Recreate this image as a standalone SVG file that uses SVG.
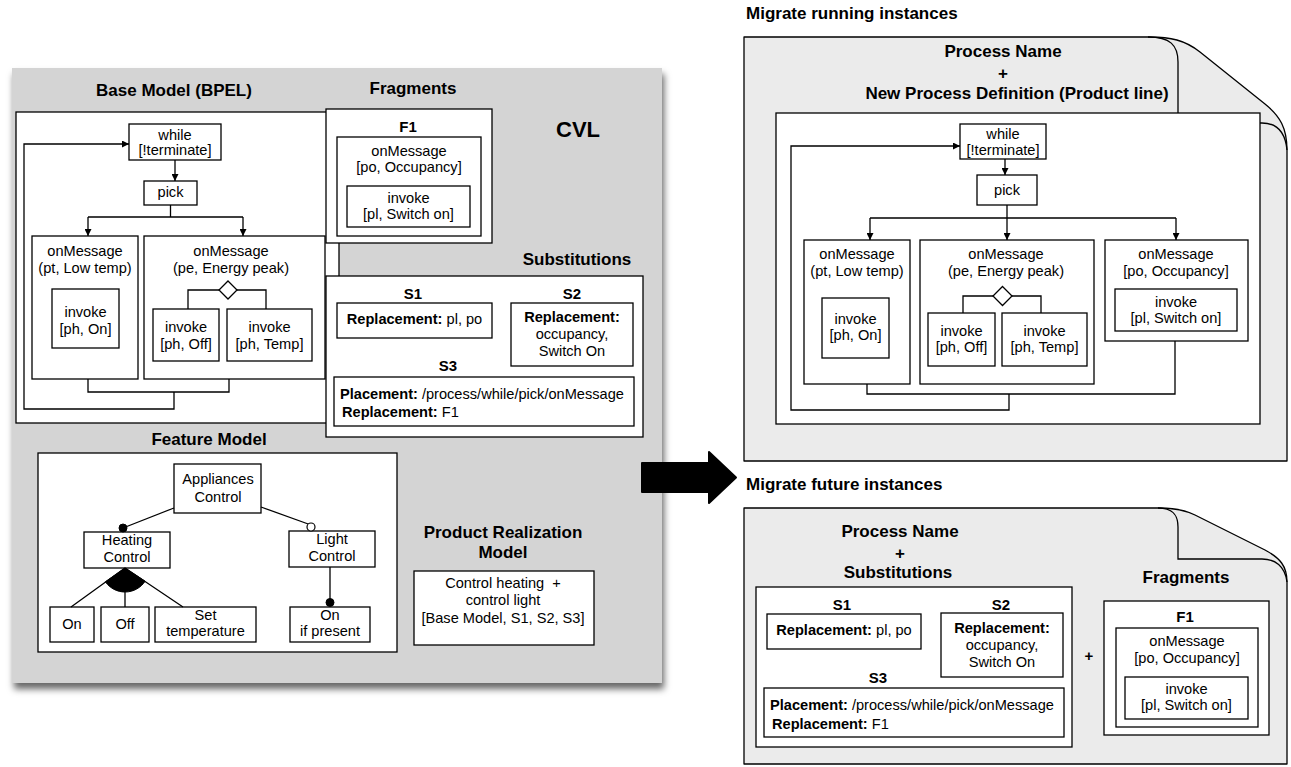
<svg xmlns="http://www.w3.org/2000/svg" width="1291" height="767" viewBox="0 0 1291 767">
<defs>
<style>
.t{font-family:"Liberation Sans",Arial,Helvetica,sans-serif;font-size:14.6px;fill:#000;text-anchor:middle}
.h{font-family:"Liberation Sans",Arial,Helvetica,sans-serif;font-size:17px;font-weight:bold;fill:#000;text-anchor:middle}
.s{font-family:"Liberation Sans",Arial,Helvetica,sans-serif;font-size:15px;font-weight:bold;fill:#000;text-anchor:middle}
text.l{text-anchor:start}
.bd{font-weight:bold}
.bx{fill:#fff;stroke:#000;stroke-width:1.3}
.ln{fill:none;stroke:#000;stroke-width:1.3}
.arr{marker-end:url(#ah)}
.pg{fill:#ebebeb;stroke:#000;stroke-width:1.3;stroke-linejoin:round}
.dot{fill:#000;stroke:#000;stroke-width:1}
.odot{fill:#fff;stroke:#000;stroke-width:1.2}
</style>
<marker id="ah" viewBox="0 0 10 10" refX="10" refY="5" markerWidth="7" markerHeight="7" markerUnits="userSpaceOnUse" orient="auto"><path d="M0,0 L10,5 L0,10 z" fill="#000"/></marker>
<filter id="sh" x="-5%" y="-5%" width="115%" height="115%"><feDropShadow dx="2" dy="6" stdDeviation="3.5" flood-color="#000" flood-opacity="0.6"/></filter>
</defs>
<rect x="0" y="0" width="1291" height="767" fill="#fff"/>

<!-- CVL panel -->
<g id="cvl-panel">
<rect x="12" y="68" width="650" height="615" fill="#d4d4d4" filter="url(#sh)"/>
<text class="h" x="174" y="96">Base Model (BPEL)</text>
<text class="h" x="413" y="94">Fragments</text>
<text class="h" x="578" y="137" style="font-size:22px">CVL</text>
<text class="h" x="577" y="265">Substitutions</text>
<text class="h" x="209" y="445">Feature Model</text>
<text class="h" x="503" y="538">Product Realization</text>
<text class="h" x="503" y="558">Model</text>
</g>

<!-- Base model -->
<g id="base-model">
<rect class="bx" x="16" y="112" width="323" height="311"/>
</g>
<g id="bpel-while">
<rect class="bx" x="129" y="124" width="92" height="36"/>
<text class="t" x="175" y="140">while</text>
<text class="t" x="175" y="155">[!terminate]</text>
</g>
<g id="bpel-pick">
<rect class="bx" x="144" y="181" width="53" height="24"/>
<text class="t" x="170.5" y="197">pick</text>
</g>
<g id="bpel-onmsg-pt">
<rect class="bx" x="32" y="236" width="106" height="143"/>
<text class="t" x="85" y="256">onMessage</text>
<text class="t" x="85" y="273">(pt, Low temp)</text>
<rect class="bx" x="52" y="289" width="67" height="59"/>
<text class="t" x="85.5" y="317">invoke</text>
<text class="t" x="85.5" y="334">[ph, On]</text>
</g>
<g id="bpel-onmsg-pe">
<rect class="bx" x="144" y="236" width="181" height="143"/>
<text class="t" x="231" y="256">onMessage</text>
<text class="t" x="231" y="273">(pe, Energy peak)</text>
<path class="bx" d="M228,281 L237,290 L228,299 L219,290 Z"/>
<rect class="bx" x="153" y="309" width="66" height="52"/>
<text class="t" x="186" y="332">invoke</text>
<text class="t" x="186" y="349">[ph, Off]</text>
<rect class="bx" x="227" y="309" width="85" height="52"/>
<text class="t" x="269.5" y="332">invoke</text>
<text class="t" x="269.5" y="349">[ph, Temp]</text>
</g>

<!-- Fragments -->
<g id="fragments">
<rect class="bx" x="326" y="109" width="166" height="134"/>
<text class="s" x="408" y="132">F1</text>
<rect class="bx" x="337" y="137" width="144" height="99"/>
<text class="t" x="409" y="156">onMessage</text>
<text class="t" x="409" y="172">[po, Occupancy]</text>
<rect class="bx" x="347" y="186" width="123" height="41"/>
<text class="t" x="408.5" y="203">invoke</text>
<text class="t" x="408.5" y="219">[pl, Switch on]</text>
</g>

<!-- Substitutions -->
<g id="substitutions">
<rect class="bx" x="326" y="276" width="317" height="161"/>
<text class="s" x="413" y="299">S1</text>
<rect class="bx" x="337" y="303" width="155" height="35"/>
<text class="t" x="414.5" y="324"><tspan class="bd">Replacement:</tspan> pl, po</text>
<text class="s" x="572" y="299">S2</text>
<rect class="bx" x="511" y="303" width="122" height="63"/>
<text class="t bd" x="572" y="322">Replacement:</text>
<text class="t" x="572" y="339">occupancy,</text>
<text class="t" x="572" y="356">Switch On</text>
<text class="s" x="448" y="371">S3</text>
<rect class="bx" x="334" y="377" width="300" height="49"/>
<text class="t l" x="340" y="399"><tspan class="bd">Placement:</tspan> /process/while/pick/onMessage</text>
<text class="t l" x="342" y="417"><tspan class="bd">Replacement:</tspan> F1</text>
</g>

<!-- Feature model -->
<g id="feature-model">
<rect class="bx" x="38" y="453" width="359" height="199"/>
</g>
<g id="fm-appliances">
<rect class="bx" x="174" y="464" width="87" height="49"/>
<text class="t" x="218" y="484">Appliances</text>
<text class="t" x="218" y="502">Control</text>
</g>
<g id="fm-heating">
<rect class="bx" x="84" y="532" width="86" height="36"/>
<text class="t" x="127" y="545">Heating</text>
<text class="t" x="127" y="562">Control</text>
</g>
<g id="fm-light">
<rect class="bx" x="289" y="531" width="86" height="36"/>
<text class="t" x="332" y="544">Light</text>
<text class="t" x="332" y="561">Control</text>
</g>
<g id="fm-on">
<rect class="bx" x="50" y="607" width="44" height="35"/>
<text class="t" x="72" y="629">On</text>
</g>
<g id="fm-off">
<rect class="bx" x="101" y="607" width="48" height="35"/>
<text class="t" x="125" y="629">Off</text>
</g>
<g id="fm-settemp">
<rect class="bx" x="155" y="607" width="101" height="35"/>
<text class="t" x="205.5" y="620">Set</text>
<text class="t" x="205.5" y="636">temperature</text>
</g>
<g id="fm-onifpresent">
<rect class="bx" x="290" y="607" width="80" height="35"/>
<text class="t" x="330" y="620">On</text>
<text class="t" x="330" y="636">if present</text>
</g>

<!-- Product realization -->
<g id="product-realization">
<rect class="bx" x="414" y="571" width="180" height="74"/>
<text class="t" x="503" y="588" xml:space="preserve">Control heating  +</text>
<text class="t" x="503" y="605">control light</text>
<text class="t" x="503" y="623">[Base Model, S1, S2, S3]</text>
</g>

<!-- Big arrow -->
<g id="transform-arrow">
<path d="M642,463 H709 V452 L736,477.5 L709,503 V492 H642 Z" fill="#000" stroke="#000" stroke-width="2" stroke-linejoin="round"/>
</g>

<!-- Running instances -->
<text class="h l" x="746" y="19">Migrate running instances</text>
<g id="running-page">
<path class="pg" d="M744,37 H1150 C1170,37 1185,40 1200,52 L1265,104 C1280,116 1287,128 1287,150 V461 H744 Z"/>
<path class="ln" d="M1148,37 C1170,37 1178,45 1178,62 V123 H1262 C1275,123 1285,130 1287,150"/>
<text class="h" x="1003" y="57">Process Name</text>
<text class="h" x="1003" y="79">+</text>
<text class="h" x="1017" y="99">New Process Definition (Product line)</text>
<rect class="bx" x="776" y="113" width="484" height="311"/>
</g>
<g id="r-while">
<rect class="bx" x="960" y="124" width="86" height="35"/>
<text class="t" x="1003" y="139">while</text>
<text class="t" x="1003" y="155">[!terminate]</text>
</g>
<g id="r-pick">
<rect class="bx" x="977" y="175" width="60" height="30"/>
<text class="t" x="1007" y="195">pick</text>
</g>
<g id="r-onmsg-pt">
<rect class="bx" x="804" y="240" width="106" height="144"/>
<text class="t" x="857" y="259">onMessage</text>
<text class="t" x="857" y="276">(pt, Low temp)</text>
<rect class="bx" x="822" y="298" width="67" height="60"/>
<text class="t" x="855.5" y="324">invoke</text>
<text class="t" x="855.5" y="340">[ph, On]</text>
</g>
<g id="r-onmsg-pe">
<rect class="bx" x="920" y="240" width="174" height="144"/>
<text class="t" x="1006" y="259">onMessage</text>
<text class="t" x="1006" y="276">(pe, Energy peak)</text>
<path class="bx" d="M1002.5,286.5 L1012,296 L1002.5,305.5 L993,296 Z"/>
<rect class="bx" x="928" y="313" width="67" height="53"/>
<text class="t" x="961.5" y="336">invoke</text>
<text class="t" x="961.5" y="352">[ph, Off]</text>
<rect class="bx" x="1002" y="313" width="85" height="53"/>
<text class="t" x="1044.5" y="336">invoke</text>
<text class="t" x="1044.5" y="352">[ph, Temp]</text>
</g>
<g id="r-onmsg-po">
<rect class="bx" x="1105" y="240" width="143" height="101"/>
<text class="t" x="1176" y="259">onMessage</text>
<text class="t" x="1176" y="276">[po, Occupancy]</text>
<rect class="bx" x="1115" y="289" width="122" height="42"/>
<text class="t" x="1176" y="307">invoke</text>
<text class="t" x="1176" y="323">[pl, Switch on]</text>
</g>

<!-- Future instances -->
<text class="h l" x="746" y="490">Migrate future instances</text>
<g id="future-page">
<path class="pg" d="M744,508 H1160 C1175,508 1185,510 1195,515 L1265,550 C1280,558 1287,566 1287,582 V764 H744 Z"/>
<path class="ln" d="M1158,508 C1172,508 1178,514 1178,527 V559 H1262 C1275,559 1285,566 1287,582"/>
<text class="h" x="900" y="537">Process Name</text>
<text class="h" x="900" y="559">+</text>
<text class="h" x="898" y="578">Substitutions</text>
<text class="h" x="1186" y="583">Fragments</text>
<text class="h" x="1089" y="661" style="font-size:15px">+</text>
</g>
<g id="f-substitutions">
<rect class="bx" x="756" y="587" width="316" height="160"/>
<text class="s" x="842" y="610">S1</text>
<rect class="bx" x="767" y="614" width="154" height="35"/>
<text class="t" x="844" y="635"><tspan class="bd">Replacement:</tspan> pl, po</text>
<text class="s" x="1001" y="610">S2</text>
<rect class="bx" x="941" y="613" width="122" height="64"/>
<text class="t bd" x="1002" y="633">Replacement:</text>
<text class="t" x="1002" y="650">occupancy,</text>
<text class="t" x="1002" y="667">Switch On</text>
<text class="s" x="878" y="683">S3</text>
<rect class="bx" x="764" y="688" width="300" height="49"/>
<text class="t l" x="770" y="710"><tspan class="bd">Placement:</tspan> /process/while/pick/onMessage</text>
<text class="t l" x="772" y="729"><tspan class="bd">Replacement:</tspan> F1</text>
</g>
<g id="f-fragments">
<rect class="bx" x="1104" y="601" width="165" height="134"/>
<text class="s" x="1185" y="622">F1</text>
<rect class="bx" x="1116" y="628" width="142" height="99"/>
<text class="t" x="1187" y="646">onMessage</text>
<text class="t" x="1187" y="663">[po, Occupancy]</text>
<rect class="bx" x="1125" y="677" width="123" height="42"/>
<text class="t" x="1186.5" y="694">invoke</text>
<text class="t" x="1186.5" y="710">[pl, Switch on]</text>
</g>

<!-- Connectors -->
<g id="connectors">
<path class="ln arr" d="M175,160 V181"/>
<path class="ln" d="M170.5,205 V217 H243 M175,217 H88"/>
<path class="ln arr" d="M88,217 V236"/>
<path class="ln arr" d="M243,217 V236"/>
<path class="ln" d="M219,290 H188 V309 M237,290 H266 V309"/>
<path class="ln" d="M88,379 V392 H229 V379"/>
<path class="ln arr" d="M174,392 V409 H24 V144 H129"/>

<path class="ln" d="M174,508 L123,528"/>
<circle class="dot" cx="123" cy="528" r="4"/>
<path class="ln" d="M261,507 L311,525"/>
<circle class="odot" cx="311" cy="527" r="4"/>
<path d="M125,568 L105.4,581.8 A24,24 0 0,0 145.1,581.2 Z" fill="#000" stroke="#000" stroke-width="1"/>
<path class="ln" d="M125,568 L71,607 M125,568 V607 M125,568 L183,607"/>
<path class="ln" d="M330,567 V600"/>
<circle class="dot" cx="330" cy="602.5" r="4"/>

<path class="ln arr" d="M1005,159 V175"/>
<path class="ln" d="M1007,205 V218 M870,218 H1176"/>
<path class="ln arr" d="M870,218 V240"/>
<path class="ln arr" d="M1007,218 V240"/>
<path class="ln arr" d="M1176,218 V240"/>
<path class="ln" d="M993,296 H963 V313 M1012,296 H1041 V313"/>
<path class="ln" d="M867,384 V394 H1175 V341"/>
<path class="ln arr" d="M1009,394 V410 H791 V146 H960"/>
</g>
</svg>
